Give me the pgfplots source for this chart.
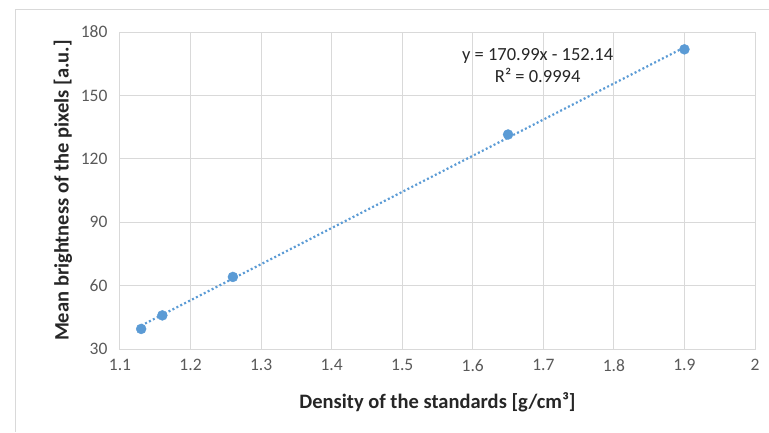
\documentclass[border=0pt]{standalone}
\usepackage{pgfplots}
\pgfplotsset{compat=1.18}
\usepackage{fontspec}
\setmainfont{Carlito}
\definecolor{ptblue}{RGB}{91,155,213}
\definecolor{gridc}{RGB}{217,217,217}
\definecolor{tickc}{RGB}{89,89,89}
\definecolor{labc}{RGB}{38,38,38}
\begin{document}
\begin{tikzpicture}[x=1pt,y=1pt]
  % chart frame and page size (769 x 432)
  \path[use as bounding box] (0,0) rectangle (769,432);
  \draw[gridc, line width=1pt] (15,0) -- (15,422) -- (769,422);
  \begin{axis}[
      at={(120pt,83pt)}, anchor=south west,
      scale only axis, width=635pt, height=317pt,
      xmin=1.1, xmax=2, ymin=30, ymax=180,
      xtick={1.1,1.2,...,2.01}, ytick={30,60,...,180},
      /pgf/number format/assume math mode=true,
      tick style={draw=none},
      grid=major, grid style={gridc, line width=1pt},
      axis line style={gridc, line width=1pt},
      ticklabel style={font=\fontsize{17.5}{20}\selectfont, text=tickc},
      xticklabel style={yshift=-7pt, /pgf/number format/.cd, fixed, precision=1},
      yticklabel style={xshift=-9pt},
      xlabel={\textbf{Density of the standards [g/cm³]}},
      ylabel={\textbf{Mean brightness of the pixels [a.u.]}},
      label style={font=\fontsize{20.5}{24}\selectfont, text=labc},
      xlabel style={yshift=-14pt},
      ylabel style={yshift=2pt},
      clip=false,
  ]
    % linear trendline: y = 170.99x - 152.14
    \addplot[ptblue, line width=2.2pt, dash pattern=on 2pt off 2.4pt] coordinates {
      (1.13,41.08) (1.90,172.74)
    };
    \addplot[only marks, mark=*, mark size=5pt, ptblue, mark options={draw=ptblue, fill=ptblue}] table {
      x     y
      1.13  39.5
      1.16  45.9
      1.26  64.1
      1.65  131.5
      1.90  171.8
    };
    \node[align=center, font=\fontsize{18.5}{22}\selectfont, text=labc]
      at (axis cs:1.692,163.9) {y = 170.99x - 152.14\\R² = 0.9994};
  \end{axis}
\end{tikzpicture}
\end{document}
